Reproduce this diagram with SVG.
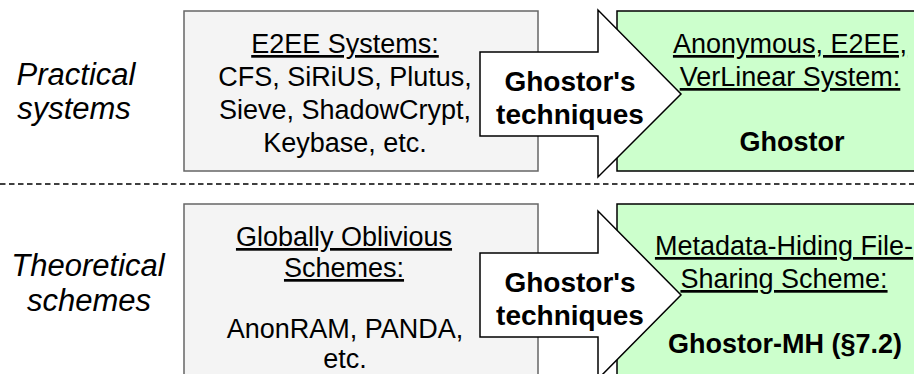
<svg xmlns="http://www.w3.org/2000/svg" width="914" height="374" viewBox="0 0 914 374">
<style>
.lbl{font-family:"Liberation Sans",Arial,sans-serif;font-style:italic;font-size:31px;fill:#000;text-anchor:middle}
.t{font-family:"Liberation Sans",Arial,sans-serif;font-size:27px;fill:#000;text-anchor:middle}
.u{text-decoration:underline}
.b{font-family:"Liberation Sans",Arial,sans-serif;font-size:27px;font-weight:bold;fill:#000;text-anchor:middle}
.ab{font-size:28px}
.gray{fill:#f4f4f4;stroke:#666;stroke-width:1.5}
.green{fill:#ccffcc;stroke:#000;stroke-width:1.5}
.arrow{fill:#fff;stroke:#000;stroke-width:1.5;stroke-linejoin:miter}
.dash{stroke:#000;stroke-width:1.5;stroke-dasharray:5.5 3.5;fill:none}
</style>
<g id="labels">
<text class="lbl" x="76" y="85">Practical</text>
<text class="lbl" x="74" y="119">systems</text>
<text class="lbl" x="88" y="276">Theoretical</text>
<text class="lbl" x="89" y="311">schemes</text>
</g>
<g id="separator"><line class="dash" x1="0" y1="184" x2="914" y2="184"/></g>
<g id="e2ee">
<rect class="gray" x="184" y="11" width="354" height="160"/>
<text class="t" x="345" y="53"><tspan class="u">E2EE Systems:</tspan></text>
<text class="t" x="345" y="86">CFS, SiRiUS, Plutus,</text>
<text class="t" x="345" y="119">Sieve, ShadowCrypt,</text>
<text class="t" x="345" y="152">Keybase, etc.</text>
</g>
<g id="ghostor">
<rect class="green" x="617" y="11" width="400" height="160"/>
<text class="t" x="790" y="53"><tspan class="u">Anonymous, E2EE,</tspan></text>
<text class="t" x="790" y="86"><tspan class="u">VerLinear System:</tspan></text>
<text class="b" x="792" y="151">Ghostor</text>
</g>
<g id="oblivious">
<rect class="gray" x="184" y="204" width="354" height="200"/>
<text class="t" x="344" y="246"><tspan class="u">Globally Oblivious</tspan></text>
<text class="t" x="344" y="277"><tspan class="u">Schemes:</tspan></text>
<text class="t" x="345" y="338">AnonRAM, PANDA,</text>
<text class="t" x="345" y="368">etc.</text>
</g>
<g id="ghostor-mh">
<rect class="green" x="617" y="204" width="400" height="200"/>
<text class="t" x="784" y="255"><tspan class="u">Metadata-Hiding File-</tspan></text>
<text class="t" x="784" y="288"><tspan class="u">Sharing Scheme:</tspan></text>
<text class="b" x="785" y="353">Ghostor-MH (§7.2)</text>
</g>
<g id="connectors">
<g id="arrow-top">
<polygon class="arrow" points="480,52 598,52 598,10 681,94 598,177 598,136 480,136"/>
<text class="b ab" x="570" y="91">Ghostor's</text>
<text class="b ab" x="570" y="124">techniques</text>
</g>
<g id="arrow-bottom">
<polygon class="arrow" points="480,253 598,253 598,211 681,295 598,379 598,337 480,337"/>
<text class="b ab" x="570" y="292">Ghostor's</text>
<text class="b ab" x="570" y="325">techniques</text>
</g>
</g>
</svg>
